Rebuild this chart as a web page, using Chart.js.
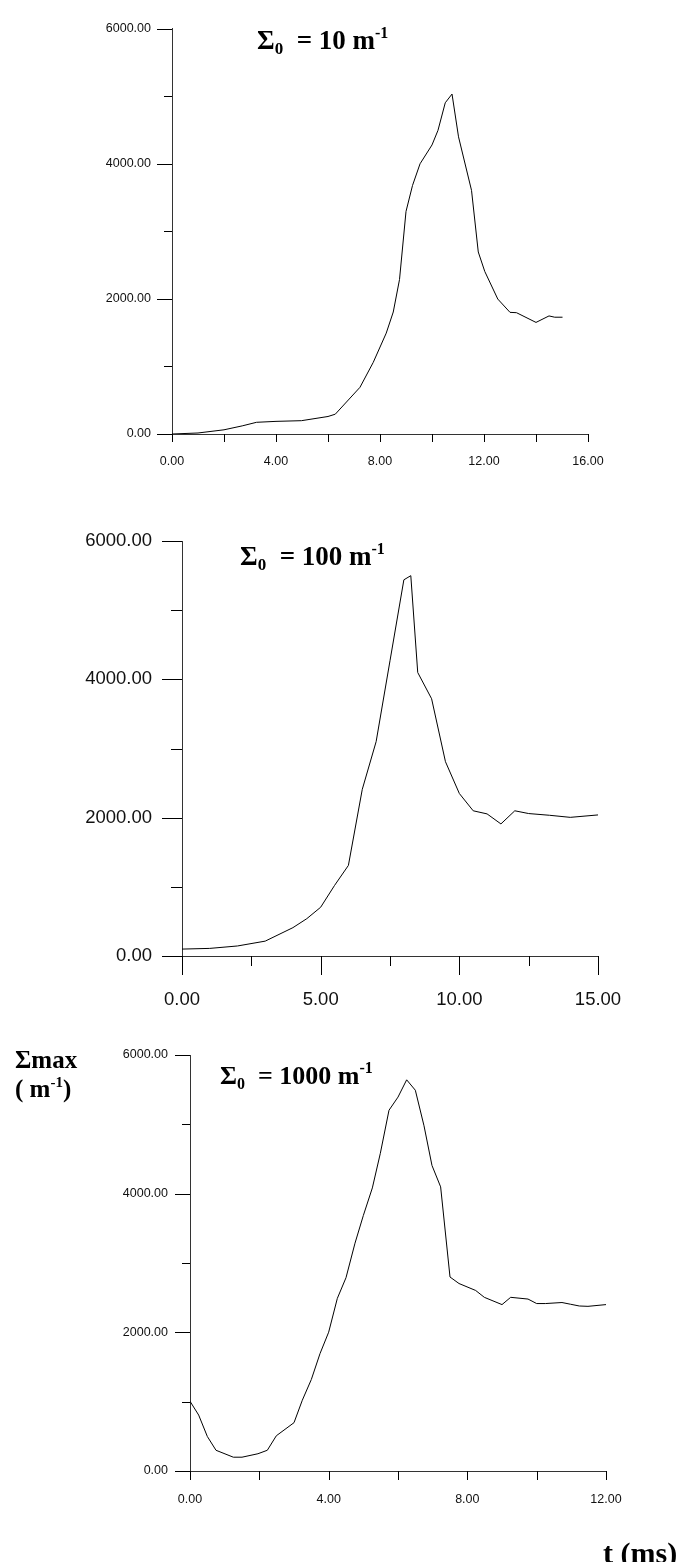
<!DOCTYPE html>
<html>
<head>
<meta charset="utf-8">
<script src="https://cdn.jsdelivr.net/npm/chart.js@4.4.1/dist/chart.umd.min.js"></script>
<style>
    body { margin: 0; background: #fff; width: 686px; height: 1562px; position: relative; overflow: hidden; }
    canvas { position: absolute; left: 0; }
</style>
</head>
<body>
<canvas id="c1" width="686" height="500" style="top:0px"></canvas>
<canvas id="c2" width="686" height="520" style="top:500px"></canvas>
<canvas id="c3" width="686" height="542" style="top:1020px"></canvas>
<script>
// Sigma_0 = 10 m-1
const time10 = [0, 1.0, 2.0, 2.7, 3.25, 4.0, 4.98, 6.0, 6.28, 7.23, 7.74, 8.24, 8.51, 8.75, 9.0, 9.25, 9.54, 10.0, 10.23, 10.51, 10.77, 11.02, 11.52, 11.78, 12.03, 12.53, 13.0, 13.25, 14.0, 14.5, 14.72, 15.02];
const sigma10 = [0, 15, 62, 120, 173, 187, 197, 259, 293, 691, 1060, 1493, 1805, 2285, 3293, 3677, 3998, 4277, 4493, 4901, 5030, 4397, 3605, 2693, 2405, 1997, 1800, 1795, 1651, 1747, 1728, 1728];

// Sigma_0 = 100 m-1
const time100 = [0, 1, 2, 3, 4, 4.5, 5, 5.5, 6, 6.5, 7, 7.5, 8, 8.25, 8.5, 9, 9.5, 10, 10.5, 11, 11.5, 12, 12.5, 13.25, 14, 15];
const sigma100 = [100, 110, 145, 215, 410, 540, 705, 1020, 1310, 2410, 3100, 4270, 5440, 5500, 4100, 3720, 2810, 2350, 2100, 2055, 1910, 2100, 2060, 2035, 2005, 2040];

// Sigma_0 = 1000 m-1
const time1000 = [0, 0.25, 0.5, 0.75, 1.25, 1.5, 1.96, 2.23, 2.49, 3.0, 3.24, 3.5, 3.75, 4.0, 4.25, 4.5, 4.76, 5.0, 5.26, 5.49, 5.74, 6.0, 6.25, 6.5, 6.75, 6.98, 7.23, 7.5, 7.76, 8.24, 8.49, 9.0, 9.25, 9.75, 10.0, 10.25, 10.73, 10.98, 11.23, 11.48, 12.0];
const sigma1000 = [1006, 807, 498, 299, 199, 199, 249, 299, 508, 697, 1021, 1320, 1693, 2002, 2490, 2788, 3286, 3685, 4083, 4581, 5203, 5393, 5642, 5492, 4979, 4407, 4098, 2798, 2704, 2604, 2505, 2400, 2505, 2480, 2415, 2415, 2430, 2405, 2380, 2375, 2400];

const yMajorTicks = [0, 2000, 4000, 6000];
const yMinorTicks = [1000, 3000, 5000];

const serif = '"Liberation Serif", "Times New Roman", serif';
const sans = '"Liberation Sans", Arial, sans-serif';

const panels = [
    { id: "c1", t: time10, v: sigma10, sigma0: "10", xMax: 16, xStep: 4, xMinor: 2,
      left: 172, right: 588, top: 17, bottom: 434, h: 500, font: 12.5, yPad: 21, xPad: 20,
      yMaj: 15, yMin: 8, xMaj: 8, xMin: 8, tx: 257, ty: 49, tsize: 27 },
    { id: "c2", t: time100, v: sigma100, sigma0: "100", xMax: 15, xStep: 5, xMinor: 2.5,
      left: 182, right: 598, top: 39, bottom: 456, h: 520, font: 18.5, yPad: 30, xPad: 33,
      yMaj: 20, yMin: 11, xMaj: 19, xMin: 10, tx: 240, ty: 65, tsize: 27 },
    { id: "c3", t: time1000, v: sigma1000, sigma0: "1000", xMax: 12, xStep: 4, xMinor: 2,
      left: 190, right: 606, top: 35, bottom: 451, h: 542, font: 12.5, yPad: 22, xPad: 21,
      yMaj: 15, yMin: 8, xMaj: 9, xMin: 9, tx: 220, ty: 64, tsize: 26 }
];

function drawSup(ctx, x, y, base, sub, rest, sup, size) {
    ctx.font = `bold ${size}px ${serif}`;
    ctx.fillText(base, x, y);
    x += ctx.measureText(base).width;
    if (sub) {
        ctx.font = `bold ${Math.round(size * 0.62)}px ${serif}`;
        ctx.fillText(sub, x, y + size * 0.18);
        x += ctx.measureText(sub).width;
    }
    ctx.font = `bold ${size}px ${serif}`;
    ctx.fillText(rest, x, y);
    x += ctx.measureText(rest).width;
    ctx.font = `bold ${Math.round(size * 0.6)}px ${serif}`;
    ctx.fillText(sup, x, y - size * 0.42);
    return x + ctx.measureText(sup).width;
}

function panelPlugin(p, last) {
    return {
        id: "panelDeco",
        afterDraw(chart) {
            const ctx = chart.ctx;
            const xs = chart.scales.x, ys = chart.scales.y;
            const area = chart.chartArea;
            ctx.save();
            ctx.strokeStyle = "#000";
            ctx.lineWidth = 1;
            ctx.beginPath();
            yMajorTicks.forEach(v => {
                const py = Math.round(ys.getPixelForValue(v)) + 0.5;
                ctx.moveTo(area.left - p.yMaj, py); ctx.lineTo(area.left, py);
            });
            yMinorTicks.forEach(v => {
                const py = Math.round(ys.getPixelForValue(v)) + 0.5;
                ctx.moveTo(area.left - p.yMin, py); ctx.lineTo(area.left, py);
            });
            for (let v = 0; v <= p.xMax + 1e-9; v += p.xMinor) {
                const px = Math.round(xs.getPixelForValue(v)) + 0.5;
                const len = Math.abs(v / p.xStep - Math.round(v / p.xStep)) < 1e-6 ? p.xMaj : p.xMin;
                ctx.moveTo(px, area.bottom); ctx.lineTo(px, area.bottom + len);
            }
            ctx.stroke();

            ctx.fillStyle = "#000";
            ctx.textBaseline = "alphabetic";
            drawSup(ctx, p.tx, p.ty, "\u03A3", "0", "  = " + p.sigma0 + " m", "-1", p.tsize);

            if (last) {
                ctx.font = `bold 25px ${serif}`;
                ctx.fillText("\u03A3max", 15, 48);
                const x2 = drawSup(ctx, 15, 77, "( m", "", "", "-1", 25);
                ctx.font = `bold 25px ${serif}`;
                ctx.fillText(")", x2, 77);
                ctx.font = `bold 30px ${serif}`;
                ctx.fillText("t (ms)", 603, 543);
            }
            ctx.restore();
        }
    };
}

panels.forEach((p, i) => {
    const ctx = document.getElementById(p.id).getContext("2d");
    new Chart(ctx, {
        type: "line",
        data: {
            datasets: [{
                data: p.t.map((t, k) => ({ x: t, y: p.v[k] })),
                borderColor: "#000",
                borderWidth: 1,
                pointRadius: 0,
                tension: 0,
                fill: false
            }]
        },
        options: {
            responsive: false,
            animation: false,
            layout: { padding: { left: 0, top: p.top, right: 686 - p.right, bottom: 0 } },
            plugins: { legend: { display: false }, tooltip: { enabled: false } },
            scales: {
                x: {
                    type: "linear", min: 0, max: p.xMax,
                    grid: { display: false, drawTicks: false },
                    border: { display: true, color: "#333", width: 1 },
                    ticks: {
                        stepSize: p.xStep, padding: p.xPad, color: "#111", maxRotation: 0,
                        font: { family: sans, size: p.font },
                        callback: v => Number(v).toFixed(2)
                    },
                    afterFit: s => { s.height = p.h - p.bottom; }
                },
                y: {
                    type: "linear", min: 0, max: 6000,
                    grid: { display: false, drawTicks: false },
                    border: { display: true, color: "#333", width: 1 },
                    ticks: {
                        stepSize: 2000, padding: p.yPad, color: "#111",
                        font: { family: sans, size: p.font },
                        callback: v => Number(v).toFixed(2)
                    },
                    afterFit: s => { s.width = p.left; }
                }
            }
        },
        plugins: [panelPlugin(p, i === panels.length - 1)]
    });
});
</script>
</body>
</html>
